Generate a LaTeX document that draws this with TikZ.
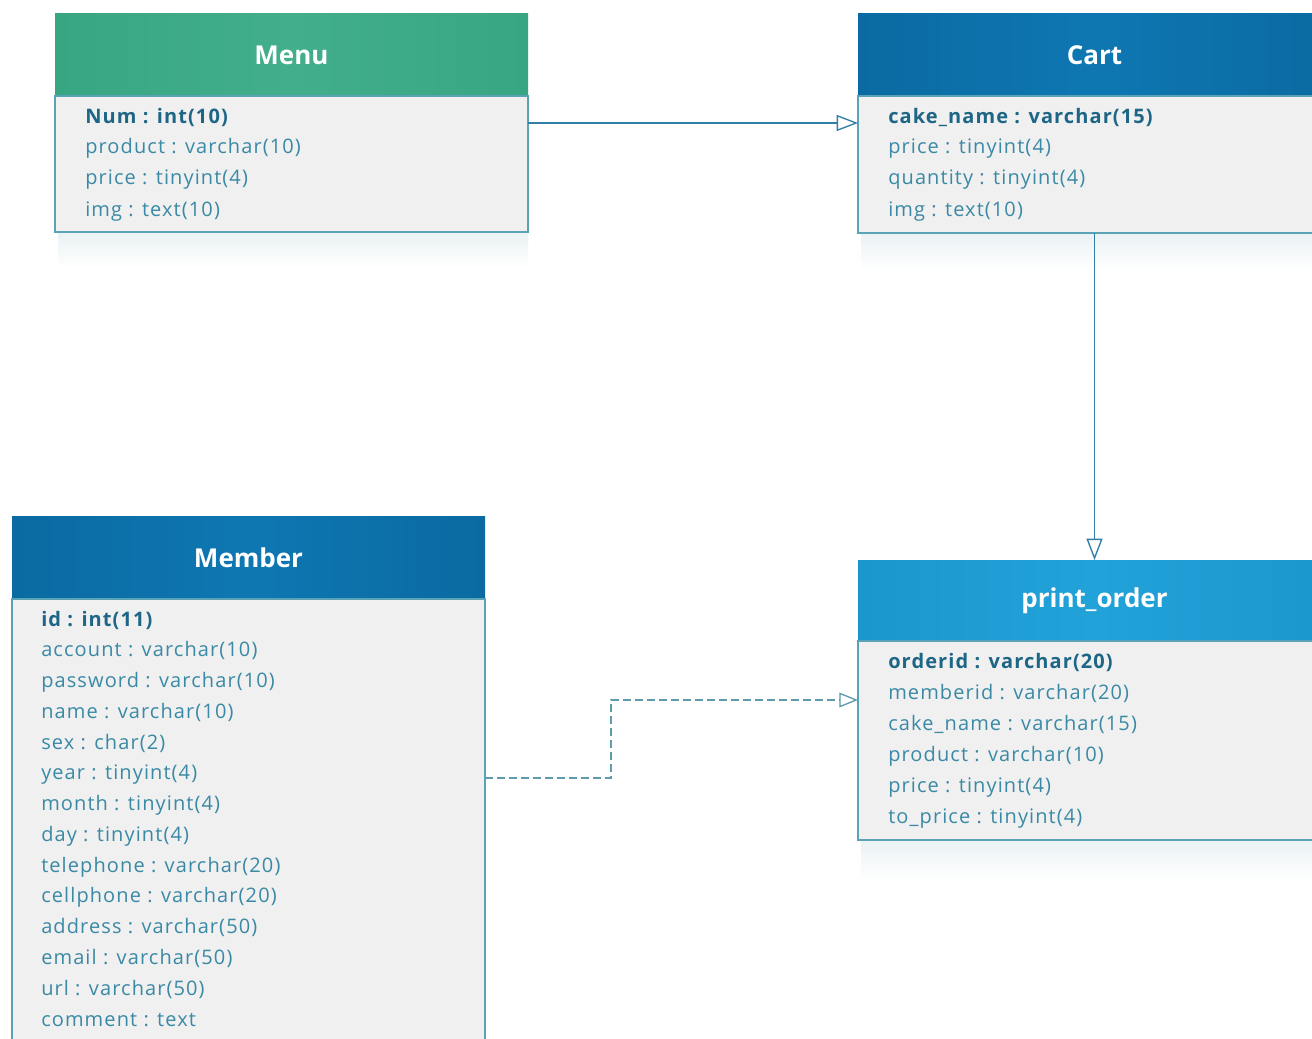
\documentclass[tikz,border=0pt]{standalone}
\usepackage{fontspec}
\setmainfont{Open Sans}
\newfontfamily\fieldfont[LetterSpace=5.5]{Open Sans}
\usetikzlibrary{arrows.meta,calc}
\definecolor{greenA}{HTML}{39A683}
\definecolor{greenB}{HTML}{42AE8B}
\definecolor{blueA}{HTML}{0B6AA2}
\definecolor{blueB}{HTML}{0E77B2}
\definecolor{lblueA}{HTML}{1A98CE}
\definecolor{lblueB}{HTML}{21A2D8}
\definecolor{bodyfill}{HTML}{F0F0F0}
\definecolor{bordc}{HTML}{5AA3B6}
\definecolor{boldtxt}{HTML}{1E6686}
\definecolor{regtxt}{HTML}{3A89A5}
\definecolor{linec}{HTML}{2F7FA6}
\definecolor{dashc}{HTML}{5E9BAC}
\definecolor{shadowc}{HTML}{EAF2F4}
\tikzset{
  head/.style={anchor=north west, minimum width=354.75pt, outer sep=0pt, inner sep=0pt,
    text=white, font=\fontsize{19.5}{22}\selectfont\bfseries},
  greenhead/.style={head, left color=greenA, right color=greenA, middle color=greenB},
  bluehead/.style={head, left color=blueA, right color=blueA, middle color=blueB},
  lbluehead/.style={head, left color=lblueA, right color=lblueA, middle color=lblueB},
  tbody/.style={anchor=north west, minimum width=354.75pt, outer sep=0pt, inner sep=0pt,
    fill=bodyfill, draw=bordc, line width=0.9pt},
  keyfield/.style={anchor=base west, inner sep=0pt, text=boldtxt, font=\fieldfont\fontsize{15}{17}\selectfont\bfseries},
  field/.style={anchor=base west, inner sep=0pt, text=regtxt, font=\fieldfont\fontsize{15}{17}\selectfont},
  conn/.style={draw=linec, line width=1pt, -{Triangle[open, length=16pt, width=12pt, line width=1pt]}},
  dconn/.style={draw=dashc, line width=0.9pt, dash pattern=on 6pt off 3pt,
    -{Triangle[open, length=14pt, width=11pt, line width=1pt, sep=0pt]}},
  shade/.style={top color=shadowc, bottom color=white, draw=none}
}
\begin{document}
\begin{tikzpicture}[x=0.75pt,y=-0.75pt]
\useasboundingbox (0,0) rectangle (1312,1038);
\clip (0,0) rectangle (1312,1038);
\fill[white] (0,0) rectangle (1312,1038);
% soft shadows
\fill[shade] (58,233) rectangle (528,268);
\fill[shade] (861,234) rectangle (1312,270);
\fill[shade] (861,841) rectangle (1312,880);

% Menu
\node[greenhead, minimum height=61.5pt] (menu-head) at (55,14) {Menu};
\node[tbody, minimum height=102pt] (menu-body) at (menu-head.south west) {};
\node[keyfield] (menu-f0) at (85,123) {Num : int(10)};
\foreach \t [count=\i] in {product : varchar(10), price : tinyint(4), img : text(10)}
  \node[field] (menu-f\i) at ({85},{123+31*\i}) {\t};

% Cart
\node[bluehead, minimum height=61.5pt] (cart-head) at (858,14) {Cart};
\node[tbody, minimum height=102.75pt] (cart-body) at (cart-head.south west) {};
\node[keyfield] (cart-f0) at (888,123) {cake\_name : varchar(15)};
\foreach \t [count=\i] in {price : tinyint(4), quantity : tinyint(4), img : text(10)}
  \node[field] (cart-f\i) at ({888},{123+31*\i}) {\t};

% Member
\node[bluehead, minimum height=62.25pt] (member-head) at (12,516) {Member};
\node[tbody, minimum height=360pt] (member-body) at (member-head.south west) {};
\node[keyfield] (member-f0) at (41,626) {id : int(11)};
\foreach \t [count=\i] in {account : varchar(10), password : varchar(10), name : varchar(10),
  sex : char(2), year : tinyint(4), month : tinyint(4), day : tinyint(4),
  telephone : varchar(20), cellphone : varchar(20), address : varchar(50),
  email : varchar(50), url : varchar(50), comment : text}
  \node[field] (member-f\i) at ({41},{626+30.77*\i}) {\t};

% print_order
\node[lbluehead, minimum height=60.75pt] (po-head) at (858,560) {print\_order};
\node[tbody, minimum height=149.25pt] (po-body) at (po-head.south west) {};
\node[keyfield] (po-f0) at (888,668) {orderid : varchar(20)};
\foreach \t [count=\i] in {memberid : varchar(20), cake\_name : varchar(15), product : varchar(10),
  price : tinyint(4), to\_price : tinyint(4)}
  \node[field] (po-f\i) at ({888},{668+31*\i}) {\t};

% connectors
\draw[conn] ([yshift=-27*0.75pt]menu-body.north east) -- ([yshift=-27*0.75pt]cart-body.north west);
\draw[conn] (cart-body.south) -- (po-head.north);
\coordinate (bend) at (611,700);
\draw[dconn] ([yshift=-179*0.75pt]member-body.north east) -| (bend) -- ([yshift=-59*0.75pt]po-body.north west);
\end{tikzpicture}
\end{document}
